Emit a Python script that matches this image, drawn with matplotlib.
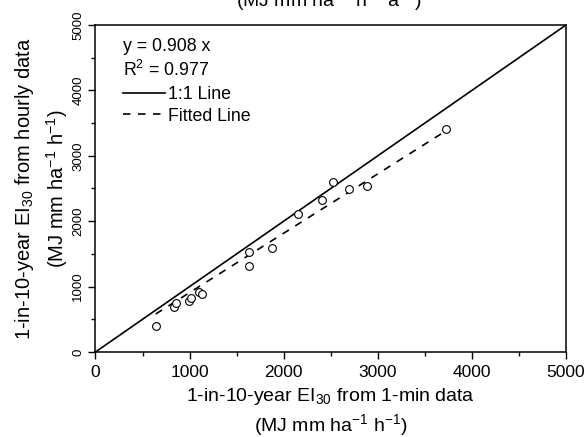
import matplotlib
matplotlib.use("Agg")
import matplotlib.pyplot as plt
from matplotlib.lines import Line2D
from matplotlib.ticker import MultipleLocator
import numpy as np

plt.rcParams['font.family'] = ['Liberation Sans', 'DejaVu Sans']
plt.rcParams['mathtext.fontset'] = 'custom'
plt.rcParams['mathtext.rm'] = 'Liberation Sans'
plt.rcParams['mathtext.it'] = 'Liberation Sans:italic'
plt.rcParams['mathtext.bf'] = 'Liberation Sans:bold'

# Data
x_1min = [640, 837, 859, 994, 1018, 1100, 1132, 1628, 1634, 1873, 2155, 2404, 2521, 2697, 2882, 3725]
y_hourly = [402, 693, 754, 780, 826, 922, 887, 1320, 1529, 1595, 2110, 2317, 2607, 2488, 2543, 3405]
slope = 0.908
r2 = 0.977
axis_limits = [0, 5000]
major_ticks = [0, 1000, 2000, 3000, 4000, 5000]

fig = plt.figure(figsize=(5.85, 4.37), dpi=100)
ax = fig.add_axes([0.1632, 0.1945, 0.8043, 0.7483])

# 1:1 line
l11, = ax.plot(axis_limits, axis_limits, color='black', lw=1.2, solid_capstyle='butt')
# fitted line
xf = np.array([min(x_1min), max(x_1min)])
lfit, = ax.plot(xf, slope * xf, color='black', lw=1.2, linestyle=(0, (4.5, 4.5)))
# data points
ax.plot(x_1min, y_hourly, linestyle='none', marker='o', markersize=5.6,
        markerfacecolor='white', markeredgecolor='black', markeredgewidth=0.8, zorder=3)

ax.set_xlim(axis_limits)
ax.set_ylim(axis_limits)
ax.set_xticks(major_ticks)
ax.set_yticks(major_ticks)
ax.xaxis.set_minor_locator(MultipleLocator(500))
ax.yaxis.set_minor_locator(MultipleLocator(500))
ax.tick_params(which='major', direction='out', length=5, width=1, pad=3)
ax.tick_params(which='minor', direction='out', length=3, width=1)
ax.tick_params(axis='x', which='major', labelsize=12.5, pad=4)
ax.tick_params(axis='y', which='major', labelsize=9.5, pad=3)
for lab in ax.get_yticklabels():
    lab.set_rotation(90)
    lab.set_va('center')
for s in ax.spines.values():
    s.set_linewidth(1.1)

ax.set_xlabel('1-in-10-year EI$_{30}$ from 1-min data\n(MJ mm ha$^{-1}$ h$^{-1}$)',
              fontsize=14, linespacing=1.25, labelpad=5)
ax.set_ylabel('1-in-10-year EI$_{30}$ from hourly data\n(MJ mm ha$^{-1}$ h$^{-1}$)',
              fontsize=14.5, linespacing=1.4, labelpad=2)

# equation text
ax.text(0.058, 0.935, 'y = %.3f x' % slope, transform=ax.transAxes, fontsize=12.8, va='center')
ax.text(0.058, 0.862, 'R$^2$ = %.3f' % r2, transform=ax.transAxes, fontsize=12.8, va='center')
leg = ax.legend([Line2D([0], [0], color='black', lw=1.2),
                 Line2D([0], [0], color='black', lw=1.2, linestyle=(0, (4.5, 4.5)))],
                ['1:1 Line', 'Fitted Line'], loc='upper left',
                bbox_to_anchor=(0.058, 0.813), frameon=False, fontsize=12.8,
                handlelength=2.4, handletextpad=0.15, labelspacing=0.25,
                borderpad=0, borderaxespad=0)

# clipped text at the top (from the panel above)
fig.text(0.563, 1 - 6 / 437, '(MJ mm ha$^{-1}$ h$^{-1}$ a$^{-1}$)', ha='center', va='baseline', fontsize=14)

fig.savefig('out.png', dpi=100)
